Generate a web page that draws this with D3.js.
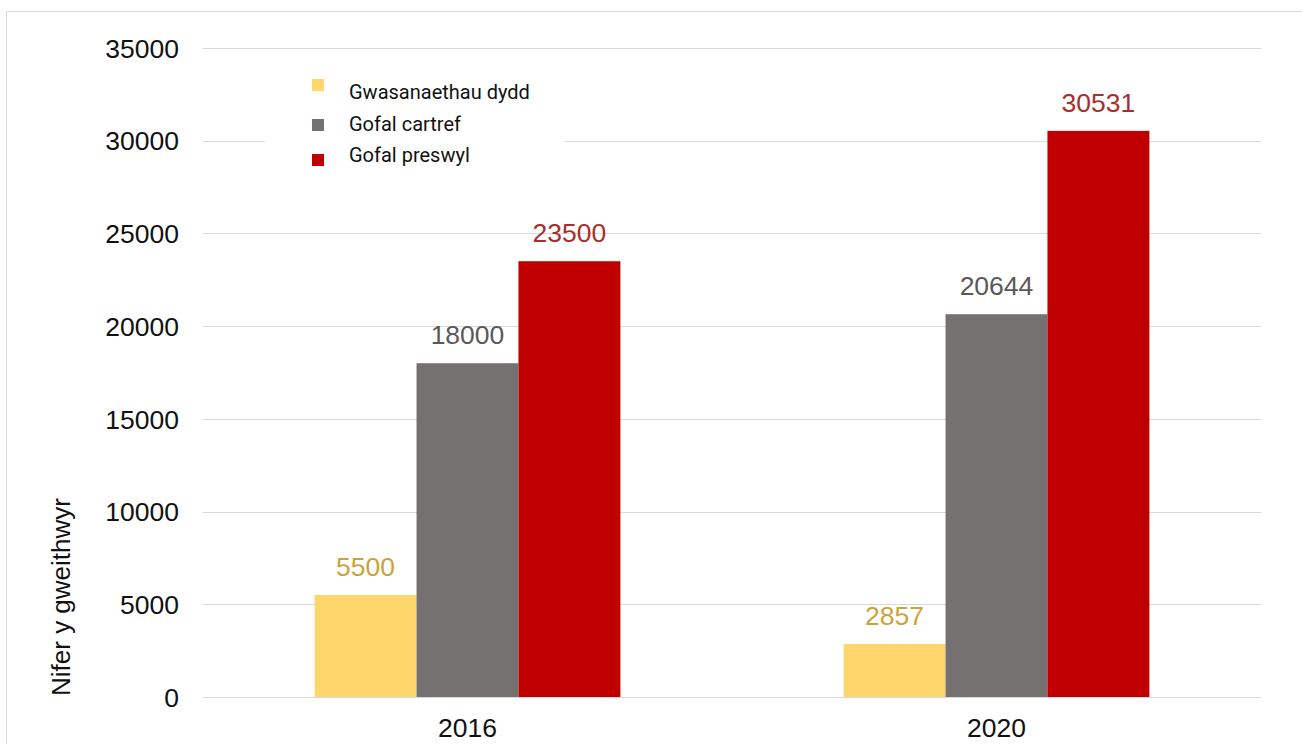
<!DOCTYPE html>
<html>
<head>
<meta charset="utf-8">
<script src="https://cdn.jsdelivr.net/npm/d3@7"></script>
<style>
    html, body { margin: 0; padding: 0; background: #fff; }
    svg { display: block; }
</style>
</head>
<body>
<div id="chart"></div>
<script>
// Data
const years = ["2016", "2020"];
const seriesNames = ["Gwasanaethau dydd", "Gofal cartref", "Gofal preswyl"];
const dayServices = [5500, 2857];
const homeCare = [18000, 20644];
const residentialCare = [23500, 30531];
const yTicks = [0, 5000, 10000, 15000, 20000, 25000, 30000, 35000];
const yTitle = "Nifer y gweithwyr";

// Constants
const width = 1302;
const height = 744;
const margin = {top: 48, right: 41, bottom: 47, left: 203};
const barColors = ["#fed66b", "#767171", "#c00000"];
const labelColors = ["#c9a43a", "#595959", "#a8302c"];
const axisFont = "'Liberation Sans', Arial, sans-serif";

const svg = d3.select("#chart")
    .append("svg")
    .attr("width", width)
    .attr("height", height);

// outer frame
svg.append("rect")
    .attr("x", 6.5)
    .attr("y", 11.5)
    .attr("width", width + 20)
    .attr("height", height + 20)
    .attr("fill", "none")
    .attr("stroke", "#dcdcdc");

const x0 = d3.scaleBand()
    .domain(years)
    .range([margin.left, width - margin.right])
    .paddingInner(0.422)
    .paddingOuter(0.211);
const x1 = d3.scaleBand()
    .domain(seriesNames)
    .range([0, x0.bandwidth()]);
const y = d3.scaleLinear()
    .domain([0, 35000])
    .range([height - margin.bottom, margin.top]);

// gridlines
svg.append("g")
    .selectAll("line")
    .data(yTicks)
    .join("line")
    .attr("x1", margin.left)
    .attr("x2", width - margin.right)
    .attr("y1", d => Math.round(y(d)) + 0.5)
    .attr("y2", d => Math.round(y(d)) + 0.5)
    .attr("stroke", "#d9d9d9")
    .attr("stroke-width", 1);

// y axis labels
const yAxis = svg.append("g")
    .attr("transform", `translate(${margin.left - 24}, 0)`)
    .call(d3.axisLeft(y).tickValues(yTicks).tickFormat(d3.format("d")).tickSize(0).tickPadding(0));
yAxis.select(".domain").remove();
yAxis.selectAll("text")
    .attr("font-family", axisFont)
    .attr("font-size", 26.5)
    .attr("fill", "#111")
    .attr("dy", "0.35em");

// x axis labels
const xAxis = svg.append("g")
    .attr("transform", `translate(0, ${height - margin.bottom})`)
    .call(d3.axisBottom(x0).tickSize(0).tickPadding(21));
xAxis.select(".domain").remove();
xAxis.selectAll("text")
    .attr("font-family", axisFont)
    .attr("font-size", 26.5)
    .attr("fill", "#111");

// y title
svg.append("text")
    .attr("transform", `translate(70, 597) rotate(-90)`)
    .attr("text-anchor", "middle")
    .attr("font-family", axisFont)
    .attr("font-size", 26)
    .attr("fill", "#111")
    .text(yTitle);

// bars
const series = [dayServices, homeCare, residentialCare];
const rows = [];
years.forEach((yr, i) => {
    seriesNames.forEach((name, j) => {
        rows.push({year: yr, name: name, idx: j, value: series[j][i]});
    });
});

const groups = svg.append("g")
    .selectAll("g")
    .data(rows)
    .join("g")
    .attr("transform", d => `translate(${x0(d.year) + x1(d.name)}, 0)`);

groups.append("rect")
    .attr("x", 0)
    .attr("y", d => y(d.value))
    .attr("width", x1.bandwidth())
    .attr("height", d => y(0) - y(d.value))
    .attr("fill", d => barColors[d.idx]);

groups.append("text")
    .attr("x", x1.bandwidth() / 2)
    .attr("y", d => y(d.value) - 19)
    .attr("text-anchor", "middle")
    .attr("font-family", axisFont)
    .attr("font-size", 26.5)
    .attr("fill", d => labelColors[d.idx])
    .text(d => d.value);

// legend
const legendBg = svg.append("rect")
    .attr("x", 265)
    .attr("y", 62)
    .attr("width", 300)
    .attr("height", 118)
    .attr("fill", "#fff");

const legend = svg.append("g")
    .selectAll("g")
    .data(seriesNames)
    .join("g")
    .attr("transform", (d, i) => `translate(312, ${80 + i * 37})`);

legend.append("rect")
    .attr("x", 0)
    .attr("y", (d, i) => i === 2 ? 0 : (i === 0 ? -1 : 2))
    .attr("width", 12)
    .attr("height", 12)
    .attr("fill", (d, i) => barColors[i]);

legend.append("text")
    .attr("x", 37)
    .attr("y", (d, i) => [12, 7, 1][i])
    .attr("dy", "0.35em")
    .attr("font-family", "Roboto, sans-serif")
    .attr("font-size", 20)
    .attr("fill", "#111")
    .text(d => d);
</script>
</body>
</html>
